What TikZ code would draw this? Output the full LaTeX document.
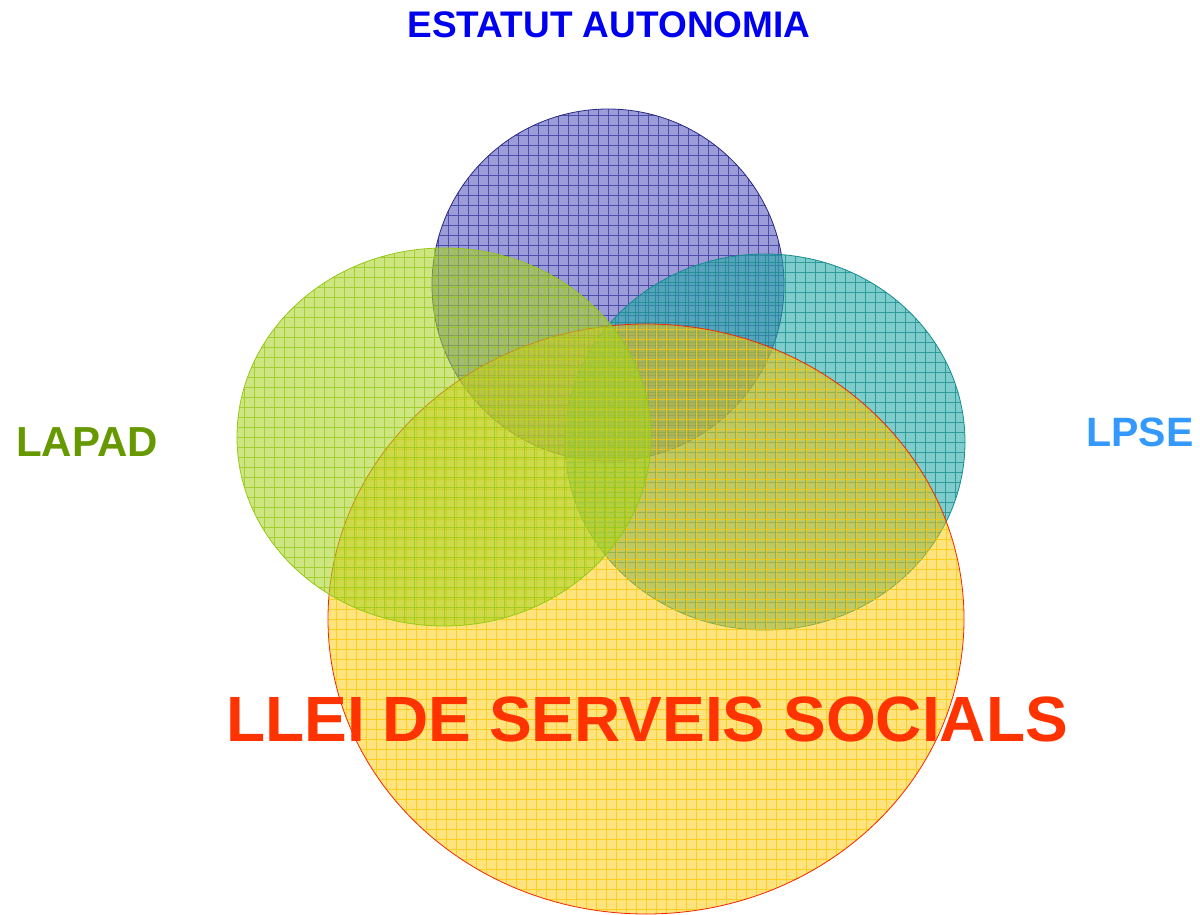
\documentclass[tikz,border=0pt]{standalone}
\usepackage{fontspec}
\setmainfont{Liberation Sans}
\usetikzlibrary{shapes.geometric}
\definecolor{bluefill}{RGB}{90,90,190}
\definecolor{blueline}{RGB}{50,50,160}
\definecolor{greenfill}{RGB}{170,212,40}
\definecolor{greenline}{RGB}{150,200,20}
\definecolor{tealfill}{RGB}{40,170,170}
\definecolor{tealline}{RGB}{20,140,140}
\definecolor{yellowfill}{RGB}{255,200,0}
\definecolor{yellowline}{RGB}{255,200,0}
\definecolor{edgered}{RGB}{240,40,0}
\definecolor{txtblue}{RGB}{0,0,240}
\definecolor{txtgreen}{RGB}{102,153,0}
\definecolor{txtsky}{RGB}{51,153,255}
\definecolor{txtred}{RGB}{255,51,0}
\tikzset{
  venn/.style n args={4}{ellipse, inner sep=0pt, draw=#3, line width=0.8pt,
    fill=#1, fill opacity=#4, draw opacity=1,
    path picture={\draw[#2, line width=0.8pt, opacity=0.75, step=10pt]
      (path picture bounding box.south west) grid (path picture bounding box.north east);}},
  lbl/.style={font=\bfseries, inner sep=0pt, text opacity=1}
}
\begin{document}
\begin{tikzpicture}[x=1pt,y=-1pt]
\useasboundingbox (0,0) rectangle (1200,915);
\node[venn={bluefill}{blueline}{blueline!80!black}{0.6}, minimum width=352pt, minimum height=352pt] (blue) at (608,285) {};
\node[venn={tealfill}{tealline}{tealline}{0.6}, minimum width=400pt, minimum height=376pt] (teal) at (765,442) {};
\node[venn={yellowfill}{yellowline}{edgered}{0.5}, minimum width=636pt, minimum height=590pt] (yellow) at (646,619) {};
\node[venn={greenfill}{greenline}{greenline}{0.58}, minimum width=414pt, minimum height=378pt] (green) at (444,437) {};
\node[lbl, text=txtblue, font=\fontsize{37}{40}\selectfont\bfseries] (estatut) at (609,25) {ESTATUT AUTONOMIA};
\node[lbl, text=txtgreen, font=\fontsize{42}{46}\selectfont\bfseries] (lapad) at (87,442) {LAPAD};
\node[lbl, text=txtsky, font=\fontsize{41}{46}\selectfont\bfseries] (lpse) at (1140,432) {LPSE};
\node[lbl, text=txtred, font=\fontsize{64}{70}\selectfont\bfseries] (llei) at (647,719) {LLEI DE SERVEIS SOCIALS};
\end{tikzpicture}
\end{document}
